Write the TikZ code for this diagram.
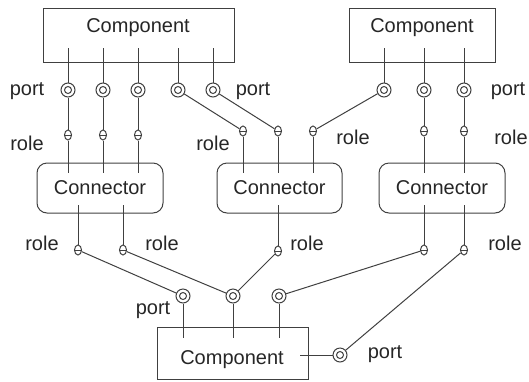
\documentclass[tikz,border=0pt]{standalone}
\usepackage{fontspec}
\setmainfont{Liberation Sans}
\usetikzlibrary{shapes.geometric}
\begin{document}
\begin{tikzpicture}[x=1pt,y=-1pt,
    every node/.style={font=\fontsize{20}{24}\selectfont, text=black!85},
    line/.style={draw=black!75, line width=1pt},
    comp/.style={line, rectangle, inner sep=0pt},
    conn/.style={line, rectangle, rounded corners=10pt, inner sep=0pt},
    port/.style={line, circle, fill=white, minimum size=14pt, inner sep=0pt,
        path picture={\draw[black!75, line width=1pt] (path picture bounding box.center) circle (3.5pt);}},
    role/.style={line, ellipse, fill=white, minimum width=7pt, minimum height=10pt, inner sep=0pt,
        path picture={\draw[black!75, line width=0.8pt] (path picture bounding box.west) -- (path picture bounding box.east);}}]
    \useasboundingbox (0,0) rectangle (529,381);

    % Draw nodes
    \node[comp, minimum width=191pt, minimum height=54pt] (compA) at (138.5,35) {};
    \node (compAtxt) at (138,27.5) {Component};
    \node[comp, minimum width=146pt, minimum height=54pt] (compB) at (422,35) {};
    \node (compBtxt) at (422,27.5) {Component};
    \node[comp, minimum width=151pt, minimum height=52pt] (compC) at (232.5,353) {};
    \node (compCtxt) at (232,360) {Component};

    \node[conn, minimum width=126pt, minimum height=50pt] (connA) at (100,188) {Connector};
    \node[conn, minimum width=125pt, minimum height=50pt] (connB) at (279.5,188) {Connector};
    \node[conn, minimum width=126pt, minimum height=50pt] (connC) at (442,188) {Connector};

    \foreach \n/\x in {1/68,2/103,3/138,4/178,5/213} \node[port] (pA\n) at (\x,90) {};
    \foreach \n/\x in {1/384,2/424,3/464} \node[port] (pB\n) at (\x,90) {};
    \foreach \n/\x in {1/183,2/233,3/279} \node[port] (pC\n) at (\x,296) {};
    \node[port] (pC4) at (340,355) {};

    \foreach \n/\x in {1/68,2/103,3/138} \node[role] (rA\n) at (\x,135) {};
    \foreach \n/\x in {1/243,2/278,3/313} \node[role] (rB\n) at (\x,131) {};
    \foreach \n/\x in {1/424,2/464} \node[role] (rC\n) at (\x,131) {};
    \foreach \n/\x in {1/78,2/123} \node[role] (sA\n) at (\x,250) {};
    \node[role] (sB1) at (278,251) {};
    \foreach \n/\x in {1/424,2/464} \node[role] (sC\n) at (\x,250) {};

    \coordinate (topin) at (0,48);
    \coordinate (connin) at (0,173);
    \coordinate (connout) at (0,205);
    \coordinate (botin) at (0,338);
    \coordinate (sidein) at (300,0);

    % Draw edges
    \foreach \n in {1,...,5} \draw[line] (pA\n) -- (pA\n |- topin);
    \foreach \n in {1,2,3} \draw[line] (pB\n) -- (pB\n |- topin);
    \foreach \p/\r in {pA1/rA1,pA2/rA2,pA3/rA3,pA4/rB1,pA5/rB2,pB1/rB3,pB2/rC1,pB3/rC2}
        \draw[line] (\p) -- (\r);
    \foreach \r in {rA1,rA2,rA3,rB1,rB2,rB3,rC1,rC2} \draw[line] (\r) -- (\r |- connin);
    \foreach \r in {sA1,sA2,sB1,sC1,sC2} \draw[line] (\r |- connout) -- (\r);
    \foreach \r/\p in {sA1/pC1,sA2/pC2,sB1/pC2,sC1/pC3,sC2/pC4}
        \draw[line] (\r) -- (\p);
    \foreach \n in {1,2,3} \draw[line] (pC\n) -- (pC\n |- botin);
    \draw[line] (pC4) -- (pC4 -| sidein);

    % Labels
    \node (portA) at (27,91) {port};
    \node (portB) at (253,91) {port};
    \node (portC) at (508,91) {port};
    \node (portD) at (153,310) {port};
    \node (portE) at (385,354) {port};
    \node (roleA) at (27,143) {role};
    \node (roleB) at (213,143) {role};
    \node (roleC) at (353,137.5) {role};
    \node (roleD) at (511,137.5) {role};
    \node (roleE) at (42,243.5) {role};
    \node (roleF) at (162,243.5) {role};
    \node (roleG) at (307,243.5) {role};
    \node (roleH) at (505,243.5) {role};
\end{tikzpicture}
\end{document}
